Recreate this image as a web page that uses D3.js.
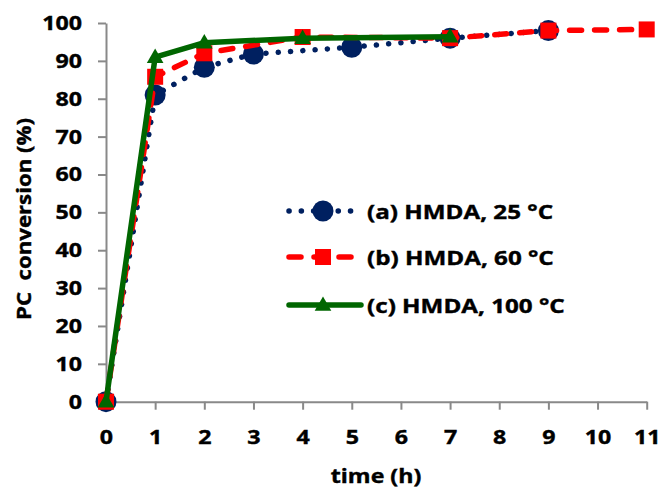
<!DOCTYPE html>
<html>
<head>
<meta charset="utf-8">
<script src="https://cdn.jsdelivr.net/npm/d3@7"></script>
<style>
  body { margin: 0; background: #fff; }
  text { font-family: "Open Sans", Lato, sans-serif; font-weight: bold; fill: #000; stroke: #000; stroke-width: 0.4px; }
</style>
</head>
<body>
<svg width="660" height="488"></svg>
<script>
// data
var timeA = [0, 1, 2, 3, 5, 7, 9],
    convA = [0, 81, 88.3, 91.8, 93.6, 96, 98];
var timeB = [0, 1, 2, 4, 7, 9, 11],
    convB = [0, 85.8, 92, 96.3, 96, 98, 98.3];
var timeC = [0, 1, 2, 4, 7],
    convC = [0, 91, 94.8, 96, 96.4];
var names = ["(a) HMDA, 25 °C", "(b) HMDA, 60 °C", "(c) HMDA, 100 °C"];
var xTicks = d3.range(0, 12),
    yTicks = d3.range(0, 101, 10);

var svg = d3.select("svg"),
    fs = "20px";

var x = d3.scaleLinear().domain([0, 11]).range([106, 646.7]),
    y = d3.scaleLinear().domain([0, 100]).range([401.7, 23]);

// text in the original is drawn wide, so stretch it around its own anchor
function widen(t, tx, ty, sx) {
  t.attr("x", 0).attr("y", null)
   .attr("transform", "translate(" + tx + "," + ty + ") scale(" + (sx || 1.16) + ",1)");
}

// axes
var xAxis = svg.append("g").attr("transform", "translate(0," + y(0) + ")")
  .call(d3.axisBottom(x).tickValues(xTicks).tickSize(8).tickPadding(22).tickSizeOuter(0));
var yAxis = svg.append("g").attr("transform", "translate(" + x(0) + ",0)")
  .call(d3.axisLeft(y).tickValues(yTicks).tickSize(8).tickPadding(16).tickSizeOuter(0));
[xAxis, yAxis].forEach(function(a) {
  a.selectAll("path, line").attr("stroke", "#898989").attr("stroke-width", 2);
  a.selectAll("text").style("font-size", fs).style("font-family", null).attr("fill", "#000");
});
xAxis.selectAll("text").each(function() { widen(d3.select(this), 0, 28.5); });
yAxis.selectAll("text").each(function() { widen(d3.select(this), -24, 0); });

widen(svg.append("text").attr("text-anchor", "middle").style("font-size", fs).text("time (h)"), 376, 482.5);
svg.append("text").attr("text-anchor", "middle").style("font-size", fs)
  .attr("xml:space", "preserve").text("PC  conversion (%)")
  .attr("transform", "translate(31,219) rotate(-90) scale(1.11,1)");

var series = [
  {t: timeA, v: convA, color: "#002060", dash: "0.1 12.2", width: 5.5, marker: "circle"},
  {t: timeB, v: convB, color: "#ff0000", dash: "12 13", width: 5.5, marker: "square"},
  {t: timeC, v: convC, color: "#006600", dash: null, width: 5.5, marker: "triangle"}
];

var line = d3.line().x(function(d) { return x(d[0]); }).y(function(d) { return y(d[1]); });

function drawMarker(g, type, color) {
  if (type === "circle") g.append("circle").attr("r", 10.5).attr("fill", color);
  else if (type === "square") g.append("rect").attr("x", -8).attr("y", -8).attr("width", 16).attr("height", 16).attr("fill", color);
  else g.append("path").attr("d", d3.symbol(d3.symbolTriangle, 120)()).attr("transform", "translate(0,1)").attr("fill", color);
}

series.forEach(function(s) {
  var pts = s.t.map(function(t, i) { return [t, s.v[i]]; });
  svg.append("path").datum(pts).attr("d", line)
    .attr("fill", "none").attr("stroke", s.color).attr("stroke-width", s.width)
    .attr("stroke-linecap", "round").attr("stroke-linejoin", "round")
    .attr("stroke-dasharray", s.dash);
  svg.append("g").selectAll("g").data(pts).enter().append("g")
    .attr("transform", function(d) { return "translate(" + x(d[0]) + "," + y(d[1]) + ")"; })
    .each(function() { drawMarker(d3.select(this), s.marker, s.color); });
});

// legend
var legend = svg.append("g").selectAll("g").data(series).enter().append("g")
  .attr("transform", function(d, i) { return "translate(0," + [211, 257, 305][i] + ")"; });
legend.append("line").attr("x1", 289).attr("x2", function(d, i) { return i === 2 ? 361 : 356; })
  .attr("stroke", function(d) { return d.color; }).attr("stroke-width", function(d) { return d.width; })
  .attr("stroke-linecap", "round").attr("stroke-dasharray", function(d) { return d.dash; });
legend.append("g").attr("transform", "translate(323,0)")
  .each(function(d) { drawMarker(d3.select(this), d.marker, d.color); });
legend.append("text").style("font-size", fs)
  .text(function(d, i) { return names[i]; })
  .each(function() { widen(d3.select(this), 367, 7.5, 1.21); });
</script>
</body>
</html>
